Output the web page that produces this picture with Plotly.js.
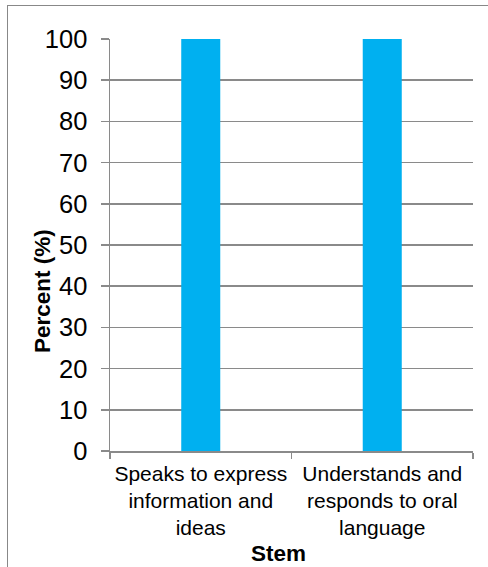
<!DOCTYPE html>
<html>
<head>
<meta charset="utf-8">
<script src="https://cdn.plot.ly/plotly-3.0.1.min.js"></script>
<style>
  html, body { margin: 0; padding: 0; overflow: hidden; background: #ffffff; }
  #chart { width: 488px; height: 567px; position: absolute; left: 0; top: 0; }
  #frame { position: absolute; left: 7px; top: 5px; width: 700px; height: 800px;
           border: 1.5px solid #888888; pointer-events: none; }
</style>
</head>
<body>
<div id="chart"></div>
<div id="frame"></div>
<script>
// Data
var categories = ["Speaks to express information and ideas", "Understands and responds to oral language"];
var tickLabels = ["Speaks to express<br>information and<br>ideas", "Understands and<br>responds to oral<br>language"];
var percentValues = [100, 100];
var xTitle = "Stem";
var yTitle = "Percent (%)";

var gray = "#8a8a8a";
var fontFamily = "Liberation Sans, Arial, sans-serif";

var trace = {
  type: "bar",
  x: categories,
  y: percentValues,
  marker: { color: "#00B0F0", line: { width: 0 } },
  hoverinfo: "x+y"
};

var layout = {
  width: 488,
  height: 567,
  margin: { l: 110, r: 15, t: 39, b: 116 },
  paper_bgcolor: "#ffffff",
  plot_bgcolor: "#ffffff",
  showlegend: false,
  bargap: 0.785,
  font: { family: fontFamily, color: "#000000" },
  xaxis: {
    type: "category",
    tickmode: "array",
    tickvals: categories,
    ticktext: tickLabels,
    tickangle: 0,
    tickfont: { size: 21, family: fontFamily, color: "#000000" },
    ticklabelstandoff: 3,
    showline: true,
    linecolor: gray,
    linewidth: 1.5,
    ticks: "outside",
    tickson: "boundaries",
    ticklen: 6,
    tickcolor: gray,
    tickwidth: 1.5,
    showgrid: false,
    zeroline: false,
    range: [-0.5, 1.5],
    fixedrange: true
  },
  yaxis: {
    range: [0, 100],
    tickmode: "linear",
    tick0: 0,
    dtick: 10,
    tickfont: { size: 25.5, family: fontFamily, color: "#000000" },
    showline: true,
    linecolor: gray,
    linewidth: 1.5,
    ticks: "outside",
    ticklen: 8,
    tickcolor: gray,
    tickwidth: 1.5,
    ticklabelstandoff: 8,
    showgrid: true,
    gridcolor: gray,
    gridwidth: 1.5,
    zeroline: false,
    fixedrange: true
  },
  annotations: [
    {
      text: "<b>" + xTitle + "</b>",
      xref: "paper", yref: "paper",
      x: (278 - 110) / 363, y: 0,
      xanchor: "center", yanchor: "top",
      yshift: -88,
      showarrow: false,
      font: { size: 22.5, family: fontFamily, color: "#000000" }
    },
    {
      text: "<b>" + yTitle + "</b>",
      xref: "paper", yref: "paper",
      x: (42 - 110) / 363, y: (451 - 291) / 412,
      xanchor: "center", yanchor: "middle",
      textangle: -90,
      showarrow: false,
      font: { size: 22.5, family: fontFamily, color: "#000000" }
    }
  ]
};

Plotly.newPlot("chart", [trace], layout, { displayModeBar: false, staticPlot: true });
</script>
</body>
</html>
